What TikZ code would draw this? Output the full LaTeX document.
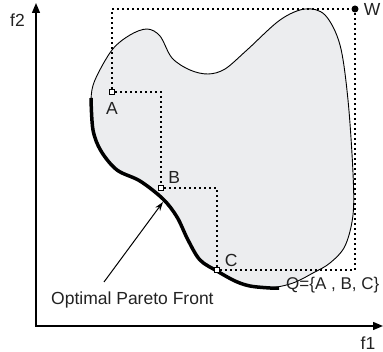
\documentclass[tikz,border=0pt]{standalone}
\usepackage{fontspec}
\setmainfont{Liberation Sans}
\usetikzlibrary{arrows.meta, positioning}
\definecolor{Region}{HTML}{ECEDEF}
\definecolor{Ink}{HTML}{222222}
\tikzset{
  axis/.style={{Triangle[length=10pt,width=8pt]}-{Triangle[length=10pt,width=8pt]}, line width=1.4pt},
  dots/.style={line width=1.4pt, dash pattern=on 1.4pt off 3.6pt},
  sq/.style={draw, fill=white, line width=0.8pt, minimum size=5.5pt, inner sep=0pt,
             path picture={\fill (path picture bounding box.center) circle (0.7pt);}},
  lbl/.style={font=\fontsize{17.5}{20}\selectfont, text=Ink, inner sep=0pt},
  ptr/.style={-{Stealth[length=9pt,width=6pt]}, line width=1pt}
}

\begin{document}
\begin{tikzpicture}[x=1pt, y=-1pt]
  \useasboundingbox (0,0) rectangle (383,352);
  % feasible region
  \draw[fill=Region, line width=0.9pt] plot[smooth cycle, tension=0.55] coordinates {
    (91,100) (95,80) (112,50) (130,35) (147,29) (160,36) (172,58) (190,70) (208,74)
    (225,69) (247,50) (280,20) (305,9) (325,15) (340,45) (348,100) (353,173) (353,215)
    (345,246) (330,263) (313,273) (293,283) (270,288) (250,286) (235,281) (217,271)
    (200,260) (188,240) (177,217) (163,199) (140,181) (117,170) (101,151) (93,130)};
  % pareto front
  \draw[line width=3.5pt] plot[smooth, tension=0.55] coordinates {
    (91,98) (93,130) (101,151) (117,170) (140,181) (163,199) (177,217) (188,240)
    (200,260) (217,271) (235,281) (250,286) (270,288) (279,288)};

  % axes
  \coordinate (o) at (36,326);
  \coordinate (ytip) at (36,3);
  \coordinate (xtip) at (383,326);
  \draw[axis] (ytip) -- (o) -- (xtip);
  \node[lbl] (f2) at (17.5,20.5) {f2};
  \node[lbl] (f1) at (368,343) {f1};

  % points
  \node[sq] (a) at (112,92) {};
  \node[sq] (b) at (161,188) {};
  \node[sq] (c) at (217,270) {};
  \node[circle, fill=black, minimum size=7pt, inner sep=0pt] (w) at (355,9) {};
  \draw[dots] (a) |- (w);
  \draw[dots] (a) -| (b);
  \draw[dots] (b) -| (c);
  \draw[dots] (c) -| (w);

  \node[lbl, below=7pt of a] (la) {A};
  \node[lbl, above right=1.5pt and 4pt of b] (lb) {B};
  \node[lbl, above right=-0.5pt and 4.5pt of c] (lc) {C};
  \node[lbl, right=5pt of w] (lw) {W};

  \node[lbl, anchor=base west, font=\fontsize{17}{20}\selectfont] (q) at (286,290) {Q=\{A , B, C\}};
  \node[lbl, anchor=base west] (front) at (51,305) {Optimal Pareto Front};
  \coordinate (tail) at (104,282);
  \coordinate (head) at (163,202);
  \draw[ptr] (tail) -- (head);
\end{tikzpicture}
\end{document}
